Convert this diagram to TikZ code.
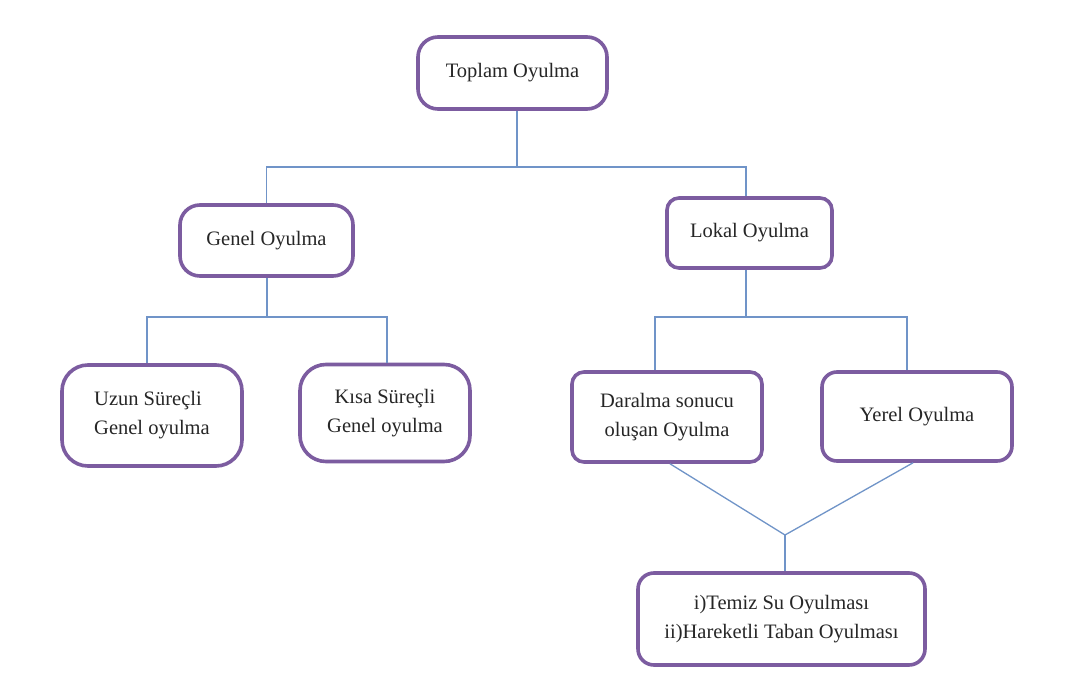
\documentclass[tikz,border=0pt]{standalone}
\usepackage{fontspec}
\setmainfont{Liberation Serif}
\usetikzlibrary{calc}
\definecolor{boxpurple}{RGB}{124,92,160}
\definecolor{linkblue}{RGB}{112,148,200}
\begin{document}
\begin{tikzpicture}[x=1pt,y=-1pt,
  box/.style={draw=boxpurple,line width=3.6pt,fill=white,rounded corners=#1,
    inner sep=0pt,font=\fontsize{20.5}{29}\selectfont,text=black!85},
  box/.default=16pt,
  link/.style={draw=linkblue,line width=1.3pt}]
\useasboundingbox (0,0) rectangle (1070,695);
\fill[white] (0,0) rectangle (1070,695);
% nodes
\node[box=20pt,minimum width=189pt,minimum height=72pt] (top) at (512.5,73) {Toplam Oyulma};
\node[box=20pt,minimum width=173pt,minimum height=71pt] (genel) at (266.5,240.5) {Genel Oyulma};
\node[box=12pt,minimum width=165pt,minimum height=70pt] (lokal) at (749.5,233) {Lokal Oyulma};
\node[box=26pt,minimum width=180pt,minimum height=101pt,align=left] (uzun) at (152,415.5) {Uzun Süreçli\\Genel oyulma};
\node[box=26pt,minimum width=170pt,minimum height=97pt,align=center] (kisa) at (385,413) {Kısa Süreçli\\Genel oyulma};
\node[box=12pt,minimum width=190pt,minimum height=90pt,align=center] (daralma) at (667,417) {Daralma sonucu\\oluşan Oyulma};
\node[box=15pt,minimum width=190pt,minimum height=89pt] (yerel) at (917,416.5) {Yerel Oyulma};
\node[box=16pt,minimum width=287pt,minimum height=92pt,align=center] (alt) at (781.5,619) {i)Temiz Su Oyulması\\ii)Hareketli Taban Oyulması};
% junctions
\coordinate (j1) at (517,167);
\coordinate (j2) at (267,317);
\coordinate (j3) at (746,317);
\coordinate (j4) at (785,535);
% connectors
\draw[link] (top.south -| j1) -- (j1);
\draw[link] (genel.north) |- (j1) -| (lokal.north -| j3) ;
\draw[link] (genel.south -| j2) -- (j2);
\draw[link] ([xshift=-5pt]uzun.north) |- (j2) -| ([xshift=2pt]kisa.north);
\draw[link] (lokal.south -| j3) -- (j3);
\draw[link] ([xshift=-12pt]daralma.north) |- (j3) -| ([xshift=-10pt]yerel.north);
\draw[link] ([xshift=3pt]daralma.south) -- (j4) -- ([xshift=-4pt]yerel.south);
\draw[link] (j4) -- (alt.north -| j4);
\end{tikzpicture}
\end{document}
